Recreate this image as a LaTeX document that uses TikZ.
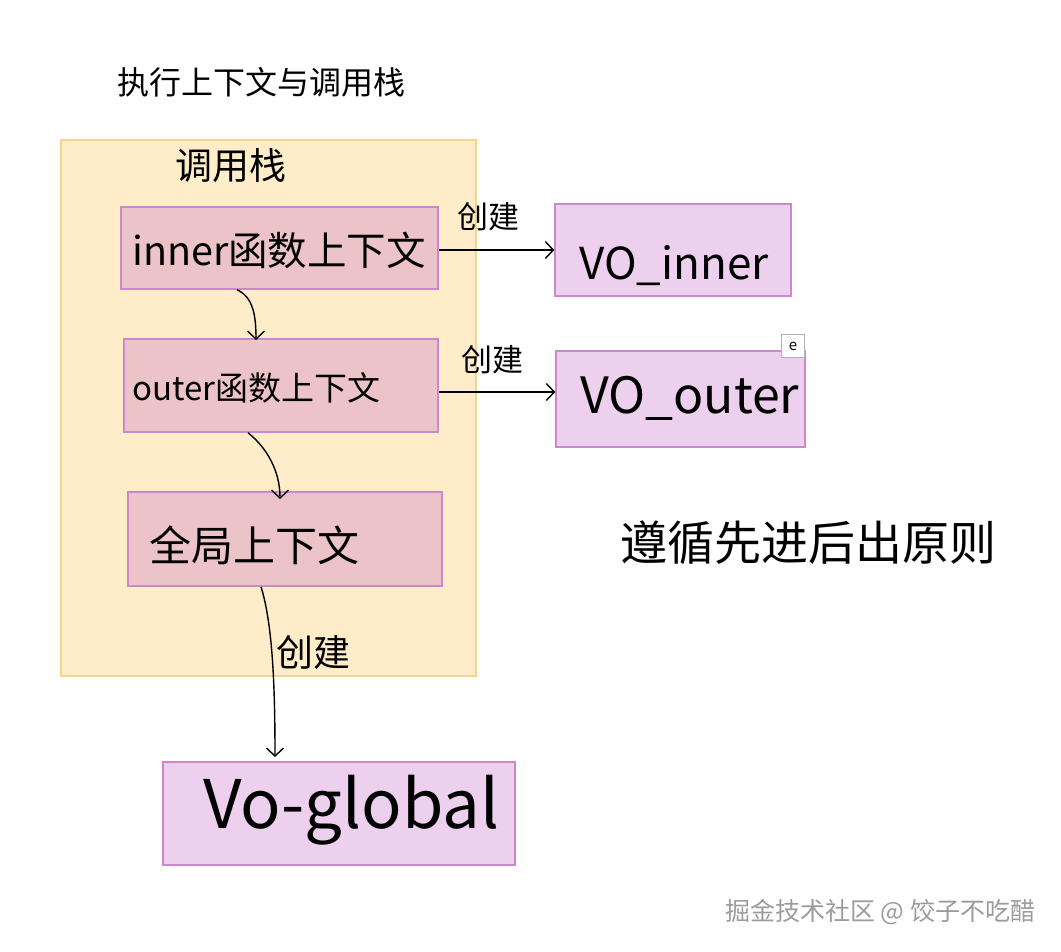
\documentclass[tikz,border=0pt]{standalone}
\usepackage{fontspec}
\setmainfont{Noto Sans CJK SC}
\usetikzlibrary{arrows.meta,calc}
\definecolor{stackfill}{HTML}{FEEDC8}
\definecolor{stackline}{HTML}{F3D590}
\definecolor{ctxfill}{HTML}{EBC3C8}
\definecolor{boxline}{HTML}{CC88CC}
\definecolor{vofill}{HTML}{EDCFEE}
\definecolor{wmgray}{HTML}{9C9C9C}
\newcommand{\fs}[1]{\fontsize{#1}{#1}\selectfont}
\tikzset{
  ctxbox/.style={draw=boxline, fill=ctxfill, line width=1.5pt, rectangle, inner sep=0pt},
  vobox/.style={draw=boxline, fill=vofill, line width=1.5pt, rectangle, inner sep=0pt},
  lbl/.style={inner sep=0pt, anchor=west, text=black},
  arr/.style={line width=1.4pt, -{Straight Barb[length=8pt,width=17pt,line width=1.4pt]}},
}
\begin{document}
\begin{tikzpicture}[x=1pt,y=-1pt]
\useasboundingbox (0,0) rectangle (1061,952);
\fill[white] (0,0) rectangle (1061,952);

% title
\node[lbl] (title) at (117,82) {\fs{32}执行上下文与调用栈};

% stack area
\node[draw=stackline, fill=stackfill, line width=1.5pt, inner sep=0pt, minimum width=415pt, minimum height=536pt] (stack) at (268.5,408) {};
\node[lbl] (stacklbl) at (175,166) {\fs{37}调用栈};

% context boxes
\node[ctxbox, minimum width=317pt, minimum height=82pt] (inner) at (279.5,248) {};
\node[lbl] (innerlbl) at (132,250) {\fs{39.5}inner函数上下文};

\node[ctxbox, minimum width=314pt, minimum height=93pt] (outer) at (281,385.5) {};
\node[lbl] (outerlbl) at (132,388) {\fs{33}outer函数上下文};

\node[ctxbox, minimum width=314pt, minimum height=94pt] (global) at (285,539) {};
\node[lbl] (globallbl) at (149,545) {\fs{42}全局上下文};

% VO boxes
\node[vobox, minimum width=236pt, minimum height=92pt] (voinner) at (673,250) {};
\node[lbl] (voinnerlbl) at (579,266) {\fs{44}VO\_inner};

\node[vobox, minimum width=249pt, minimum height=96pt] (voouter) at (680.5,399) {};
\node[lbl] (voouterlbl) at (580,398) {\fs{50}VO\_outer};

\node[draw=black!30, fill=white, line width=0.8pt, minimum width=23pt, minimum height=23pt, inner sep=0pt] (ebox) at (793,346) {\fs{15}e};

\node[vobox, minimum width=352pt, minimum height=103pt] (voglobal) at (339,813.5) {};
\node[lbl] (vogloballlbl) at (203,810) {\fs{67}Vo-global};

% side text
\node[lbl] (rule) at (620,543) {\fs{47}遵循先进后出原则};

% arrows
\draw[arr] (inner.east |- 0,250) -- (voinner.west |- 0,250);
\node[lbl] (c1) at (457,217) {\fs{31}创建};
\draw[arr] (outer.east |- 0,392) -- (voouter.west |- 0,392);
\node[lbl] (c2) at (461,360) {\fs{31}创建};

\draw[arr] (inner.south -| 237,0) .. controls (253,297) and (256,315) .. (256,340);
\draw[arr] (outer.south -| 248,0) .. controls (266,447) and (280,470) .. (280,499);
\draw[arr] (global.south -| 261,0) .. controls (273,625) and (275,690) .. (275,757);
\node[lbl] (c3) at (276,652) {\fs{37}创建};

% watermark
\node[lbl, text=wmgray] (wm) at (725,912) {\fs{25}掘金技术社区 @ 饺子不吃醋};
\end{tikzpicture}
\end{document}
